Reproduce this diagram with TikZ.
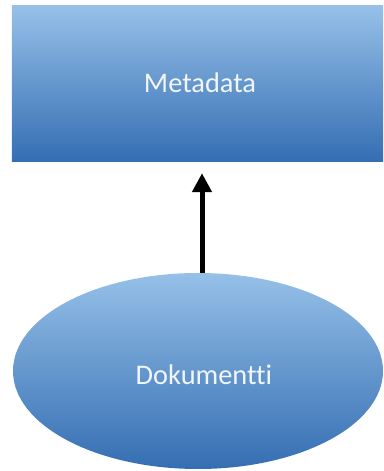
\documentclass[tikz,border=0pt]{standalone}
\usepackage{fontspec}
\setmainfont[Ligatures={NoCommon}]{Carlito}
\usetikzlibrary{shapes.geometric,arrows.meta}
\definecolor{shadetop}{RGB}{150,192,232}
\definecolor{shadebot}{RGB}{52,110,178}
\definecolor{labeltext}{RGB}{240,246,250}
\tikzset{
  blueshade/.style={top color=shadetop, bottom color=shadebot, draw=none},
  boxlabel/.style={text=labeltext, font=\fontsize{28.5}{34}\selectfont},
  bigarrow/.style={line width=5bp, -{Triangle[width=19bp,length=19bp]}},
}
\begin{document}
\begin{tikzpicture}[x=1bp,y=1bp]
  \useasboundingbox (0,0) rectangle (383,471);
  % upper box
  \node[blueshade, rectangle, minimum width=371bp, minimum height=156bp,
        inner sep=0pt] (meta) at (197.5,387) {};
  \node[boxlabel] (metalabel) at (200,388) {Metadata};
  % lower ellipse
  \node[blueshade, ellipse, minimum width=370bp, minimum height=196bp,
        inner sep=0pt] (doc) at (198,100) {};
  \node[boxlabel] (doclabel) at (204,96) {Dokumentti};
  % connector from the document up to the metadata
  \coordinate (tip) at ([xshift=4.5bp,yshift=-11bp]meta.south);
  \draw[bigarrow] (doc.north -| tip) -- (tip);
\end{tikzpicture}
\end{document}
